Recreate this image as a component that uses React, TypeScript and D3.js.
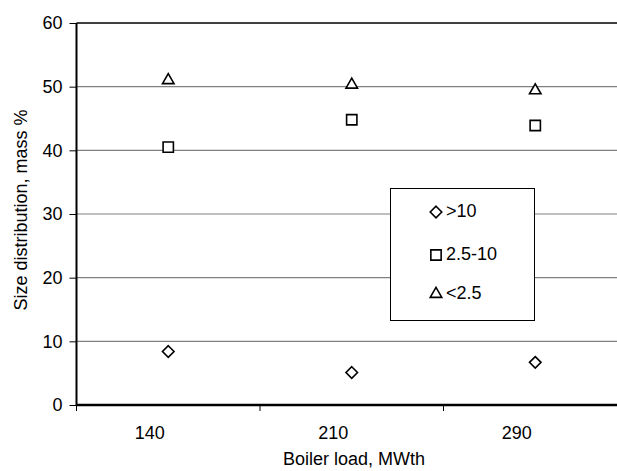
import React, { useEffect, useRef } from 'react';
import * as d3 from 'd3';

// boiler load categories
const loads = ['140', '210', '290'];
// size fractions (mass %)
const over10 = [8.4, 5.1, 6.7];
const mid = [40.5, 44.8, 43.9];
const under25 = [51, 50.3, 49.4];
const yTicks = [0, 10, 20, 30, 40, 50, 60];

const seriesNames = ['>10', '2.5-10', '<2.5'];

const App = () => {
  const ref = useRef<SVGSVGElement>(null);

  useEffect(() => {
    const svg = d3.select(ref.current);
    svg.selectAll('*').remove();

    const left = 76.5, right = 627, top = 23, bottom = 405;

    const x = d3.scaleBand().domain(loads).range([left, right]);
    const y = d3.scaleLinear().domain([0, 60]).range([bottom, top]);

    const font = 'Liberation Sans, Arial, sans-serif';

    // grid lines
    svg.append('g')
      .selectAll('line')
      .data(yTicks.filter((t) => t > 0))
      .enter().append('line')
      .attr('x1', left).attr('x2', right)
      .attr('y1', (d) => y(d)).attr('y2', (d) => y(d))
      .attr('stroke', (d) => (d === 60 ? '#000' : '#808080'))
      .attr('stroke-width', (d) => (d === 60 ? 1.5 : 1.2));

    // y axis
    const yAxis = d3.axisLeft(y).tickValues(yTicks).tickSize(7).tickPadding(7);
    const gy = svg.append('g')
      .attr('transform', `translate(${left},0)`)
      .call(yAxis);
    gy.select('.domain').attr('stroke', '#000').attr('stroke-width', 2).attr('d', `M0,${top}V${bottom}`);
    gy.selectAll('.tick line').attr('stroke', '#000').attr('stroke-width', 1);
    gy.selectAll('.tick text')
      .attr('font-family', font).attr('font-size', 18).attr('fill', '#000');

    // x axis (labels sit a bit left of the category centre, as in the original)
    const xAxis = d3.axisBottom(x).tickSize(0).tickPadding(21);
    const gx = svg.append('g')
      .attr('transform', `translate(0,${bottom})`)
      .call(xAxis);
    gx.select('.domain').attr('stroke', '#000').attr('stroke-width', 2.5).attr('d', `M${left},0H${right}`);
    gx.selectAll('.tick text')
      .attr('dx', -18.5)
      .attr('font-family', font).attr('font-size', 18).attr('fill', '#000');
    // category boundary ticks
    gx.selectAll('.bnd')
      .data(loads)
      .enter().append('line')
      .attr('x1', (d) => x(d)!).attr('x2', (d) => x(d)!)
      .attr('y1', 0).attr('y2', 6)
      .attr('stroke', '#000').attr('stroke-width', 1);

    const cx = (d: string) => x(d)! + x.bandwidth() / 2;

    const symDiamond = d3.symbol().type(d3.symbolDiamond2).size(85);
    const symSquare = d3.symbol().type(d3.symbolSquare2).size(135);
    const symTri = d3.symbol().type(d3.symbolTriangle2).size(95);

    const drawSeries = (vals: number[], sym: any) => {
      svg.append('g')
        .selectAll('path')
        .data(vals)
        .enter().append('path')
        .attr('d', sym())
        .attr('transform', (d, i) => `translate(${cx(loads[i])},${y(d)})`)
        .attr('fill', '#fff')
        .attr('stroke', '#000')
        .attr('stroke-width', 1.6);
    };

    drawSeries(over10, symDiamond);
    drawSeries(mid, symSquare);
    drawSeries(under25, symTri);

    // legend
    const lg = svg.append('g');
    lg.append('rect')
      .attr('x', 390.5).attr('y', 188.5)
      .attr('width', 144).attr('height', 132)
      .attr('fill', '#fff').attr('stroke', '#000').attr('stroke-width', 1);
    const syms = [symDiamond, symSquare, symTri];
    const ly = [212, 255, 294];
    seriesNames.forEach((name, i) => {
      lg.append('path')
        .attr('d', syms[i]())
        .attr('transform', `translate(436,${ly[i]})`)
        .attr('fill', '#fff').attr('stroke', '#000').attr('stroke-width', 1.6);
      lg.append('text')
        .attr('x', 446).attr('y', ly[i] - 1)
        .attr('dy', '0.35em')
        .attr('font-family', font).attr('font-size', 18)
        .text(name);
    });

    // axis titles
    svg.append('text')
      .attr('x', 354).attr('y', 459)
      .attr('dy', '0.35em')
      .attr('text-anchor', 'middle')
      .attr('font-family', font).attr('font-size', 18)
      .text('Boiler load, MWth');

    svg.append('text')
      .attr('transform', `translate(21,210) rotate(-90)`)
      .attr('dy', '0.35em')
      .attr('text-anchor', 'middle')
      .attr('font-family', font).attr('font-size', 18)
      .text('Size distribution, mass %');
  }, []);

  return (
    <svg ref={ref} width={617} height={471}
      style={{ position: 'absolute', left: 0, top: 0, background: '#fff' }} />
  );
};

export default App;
